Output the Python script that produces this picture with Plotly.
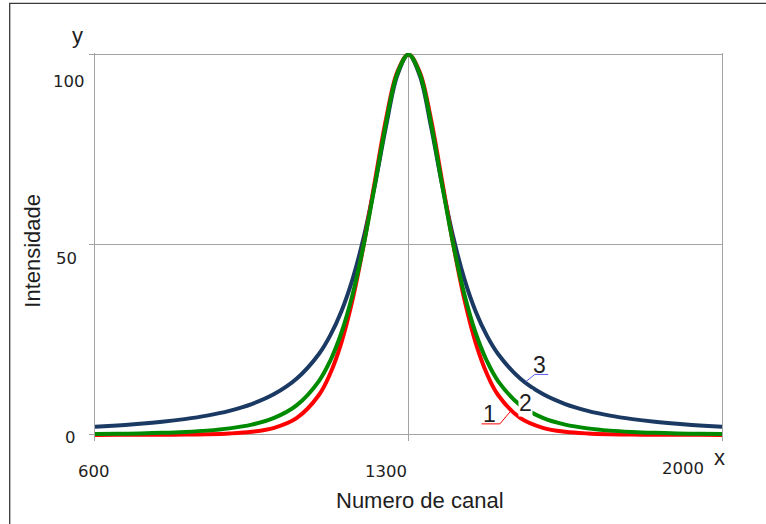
import plotly.graph_objects as go

# ---------------- data ----------------
channels = [600, 650, 700, 750, 800, 850, 900, 950, 1000, 1050, 1100, 1125, 1150,
            1175, 1200, 1225, 1250, 1275, 1300, 1325, 1350, 1375, 1400, 1425, 1450,
            1475, 1500, 1550, 1600, 1650, 1700, 1750, 1800, 1850, 1900, 1950, 2000]

curve1 = [0.01, 0.02, 0.03, 0.05, 0.09, 0.18, 0.38, 0.83, 1.87, 4.41, 10.49, 16.07, 24.20,
          35.49, 50.0, 66.73, 83.13, 95.41, 100, 95.41, 83.13, 66.73, 50.0, 35.49, 24.20,
          16.07, 10.49, 4.41, 1.87, 0.83, 0.38, 0.18, 0.09, 0.05, 0.03, 0.02, 0.01]

curve2 = [0.22, 0.29, 0.39, 0.55, 0.78, 1.13, 1.72, 2.71, 4.47, 7.76, 14.16, 19.43, 26.79,
          36.86, 50.0, 65.78, 82.11, 95.02, 100, 95.02, 82.11, 65.78, 50.0, 36.86, 26.79,
          19.43, 14.16, 7.76, 4.47, 2.71, 1.72, 1.13, 0.78, 0.55, 0.39, 0.29, 0.22]

curve3 = [2.16, 2.50, 2.92, 3.45, 4.15, 5.07, 6.33, 8.11, 10.73, 14.75, 21.28, 26.10, 32.47,
          40.91, 51.96, 65.79, 81.23, 94.54, 100, 94.54, 81.23, 65.79, 51.96, 40.91, 32.47,
          26.10, 21.28, 14.75, 10.73, 8.11, 6.33, 5.07, 4.15, 3.45, 2.92, 2.50, 2.16]

x_ticks = [600, 1300, 2000]
x_tick_labels = ["600", "1300", "2000"]
y_ticks = [0, 50, 100]
y_tick_labels = ["0", "50", "100"]

curve_names = ["1", "2", "3"]
# label anchor (data coords) and leader polylines (data coords)
label_pos = {"1": (1480, 5.6), "2": (1561, 8.5), "3": (1592, 18.4)}
leader3_x = [1562, 1582, 1612]
leader3_y = [14.0, 15.9, 15.9]
leader1_x = [1463, 1504, 1527]
leader1_y = [2.9, 2.9, 6.1]

x_title = "Numero de canal"
y_title = "Intensidade"

# ---------------- style / layout ----------------
W, H = 766, 524
L, R = 95, 722          # pixel x of plot left/right
T_PX, B_PX = 52.5, 441.1  # pixel y of plot top/bottom
Y_RANGE = [-1.6, 100.4]
X_RANGE = [600, 2000]

def px_x(px):
    return (px - L) / (R - L)

def px_y(py):
    return (B_PX - py) / (B_PX - T_PX)

RED = "#ff0000"
GREEN = "#008a00"
BLUE = "#1b3a63"
GRID = "#a3a3a3"
TXT = "#1e1e1e"

fig = go.Figure()
fig.add_trace(go.Scatter(x=channels, y=curve3, mode="lines", line=dict(color=BLUE, width=4, shape="spline"), name="3"))
fig.add_trace(go.Scatter(x=channels, y=curve1, mode="lines", line=dict(color=RED, width=4, shape="spline"), name="1"))
fig.add_trace(go.Scatter(x=channels, y=curve2, mode="lines", line=dict(color=GREEN, width=4, shape="spline"), name="2"))

# leader lines
fig.add_trace(go.Scatter(x=leader3_x, y=leader3_y, mode="lines", line=dict(color="#5a5af0", width=1), hoverinfo="skip"))
fig.add_trace(go.Scatter(x=leader1_x, y=leader1_y, mode="lines", line=dict(color=RED, width=1), hoverinfo="skip"))

annotations = []
# curve labels
for nm in curve_names:
    lx, ly = label_pos[nm]
    annotations.append(dict(x=lx, y=ly, xref="x", yref="y", text=nm, showarrow=False,
                            font=dict(family="Liberation Sans, Arial", size=23, color=TXT),
                            bgcolor="white" if nm == "2" else None, borderpad=0,
                            xanchor="center", yanchor="middle"))

# x tick labels
x_shift = [-1, -22.5, -39]
x_yshift = [-36.5, -36.5, -33.5]
for v, t, xs, ys in zip(x_ticks, x_tick_labels, x_shift, x_yshift):
    annotations.append(dict(x=v, y=0, xref="x", yref="y", text=t, showarrow=False,
                            xshift=xs, yshift=ys, xanchor="center", yanchor="middle",
                            font=dict(family="DejaVu Sans", size=16.5, color=TXT)))
# y tick labels
y_xshift = [-25, -29, -26]
y_yshift = [-2.5, -13.8, -27]
for v, t, xs, ys in zip(y_ticks, y_tick_labels, y_xshift, y_yshift):
    annotations.append(dict(x=600, y=v, xref="x", yref="y", text=t, showarrow=False,
                            xshift=xs, yshift=ys, xanchor="center", yanchor="middle",
                            font=dict(family="DejaVu Sans", size=16.5, color=TXT)))

# axis titles and axis letters
annotations += [
    dict(x=px_x(420), y=px_y(501), xref="paper", yref="paper", text=x_title, showarrow=False,
         font=dict(family="Liberation Sans, Arial", size=22, color=TXT), xanchor="center", yanchor="middle"),
    dict(x=px_x(32.5), y=px_y(251), xref="paper", yref="paper", text=y_title, showarrow=False, textangle=-90,
         font=dict(family="Liberation Sans, Arial", size=22, color=TXT), xanchor="center", yanchor="middle"),
    dict(x=px_x(77), y=px_y(35), xref="paper", yref="paper", text="y", showarrow=False,
         font=dict(family="Liberation Sans, Arial", size=22, color=TXT), xanchor="center", yanchor="middle"),
    dict(x=px_x(719), y=px_y(457.5), xref="paper", yref="paper", text="x", showarrow=False,
         font=dict(family="Liberation Sans, Arial", size=22, color=TXT), xanchor="center", yanchor="middle"),
]

shapes = [
    # outer frame (continues past the right and bottom edges of the picture)
    dict(type="rect", xref="paper", yref="paper", x0=px_x(9.7), x1=px_x(820), y0=px_y(600), y1=px_y(2.7),
         line=dict(color="#3a3a3a", width=1.3), fillcolor="rgba(0,0,0,0)", layer="below"),
]

fig.update_layout(
    width=W, height=H,
    margin=dict(l=L, r=W - R, t=T_PX, b=H - B_PX, pad=0),
    paper_bgcolor="white", plot_bgcolor="white",
    showlegend=False,
    annotations=annotations,
    shapes=shapes,
    xaxis=dict(range=X_RANGE, tickmode="array", tickvals=x_ticks, showticklabels=False,
               showgrid=True, gridcolor=GRID, gridwidth=1, zeroline=False, showline=False, ticks=""),
    yaxis=dict(range=Y_RANGE, tickmode="array", tickvals=y_ticks, showticklabels=False,
               showgrid=True, gridcolor=GRID, gridwidth=1, zeroline=False,
               showline=True, mirror=True, linecolor=GRID, linewidth=1,
               ticks="outside", ticklen=5, tickcolor=GRID, tickwidth=1),
)

fig.write_html("out.html")
